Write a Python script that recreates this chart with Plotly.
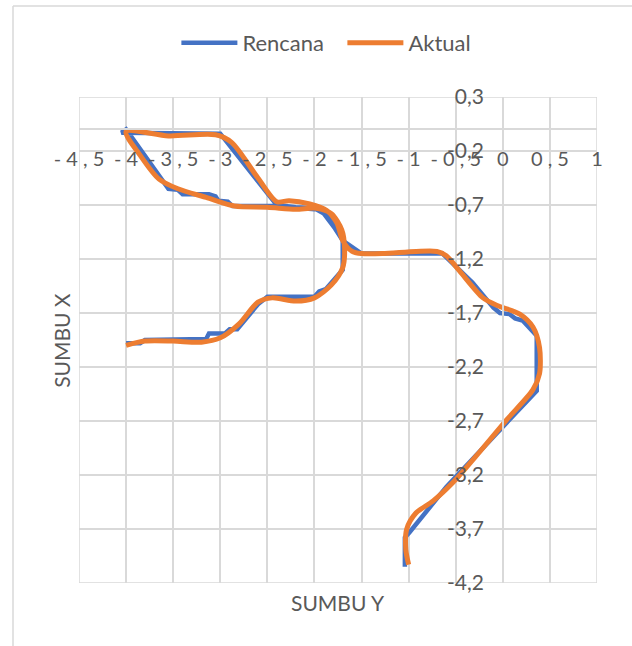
import plotly.graph_objects as go

# Planned path (Rencana): straight segments
rencana_x = [-4.0, -3.85, -3.8, -3.3, -3.15, -3.12, -2.95, -2.9, -2.82, -2.6, -2.5, -2.0,
             -1.95, -1.88, -1.7, -1.7, -1.78, -1.9, -1.95, -2.0, -2.4, -2.87, -2.92, -3.02,
             -3.05, -3.12, -3.4, -3.45, -3.55, -4.0, -4.05, -3.0, -2.4, -2.2, -2.0, -1.9,
             -1.77, -1.7, -1.5, -0.64, -0.53, -0.49, -0.32, -0.1, -0.03, 0.07, 0.13, 0.21,
             0.36, 0.36, -0.6, -0.99, -1.04, -1.04]
rencana_y = [-1.98, -1.98, -1.95, -1.95, -1.94, -1.89, -1.89, -1.85, -1.85, -1.62, -1.55, -1.55,
             -1.5, -1.48, -1.3, -1.03, -0.92, -0.78, -0.74, -0.74, -0.71, -0.71, -0.67, -0.66,
             -0.62, -0.6, -0.6, -0.56, -0.55, 0.0, -0.03, -0.04, -0.7, -0.72, -0.73, -0.78,
             -0.87, -1.03, -1.15, -1.15, -1.24, -1.27, -1.42, -1.65, -1.7, -1.71, -1.75, -1.77,
             -1.91, -2.42, -3.31, -3.73, -3.78, -4.05]

# Actual path (Aktual): smoothed
aktual_x = [-4.0, -3.8, -3.5, -3.2, -3.0, -2.8, -2.6, -2.45, -2.2, -2.0, -1.82, -1.7,
            -1.68, -1.71, -1.82, -1.98, -2.2, -2.5, -2.85, -3.15, -3.45, -3.65, -3.85, -4.0,
            -3.55, -3.05, -2.88, -2.6, -2.4, -2.27, -2.05, -1.87, -1.76, -1.7, -1.6, -1.5,
            -1.28, -0.92, -0.7, -0.6, -0.46, -0.21, -0.06, 0.18, 0.32, 0.39, 0.39, 0.32,
            0.04, -0.24, -0.53, -0.74, -0.92, -1.02, -1.03, -1.0]
aktual_y = [-2.0, -1.96, -1.96, -1.97, -1.93, -1.8, -1.6, -1.56, -1.59, -1.56, -1.44, -1.28,
            -1.1, -0.93, -0.78, -0.73, -0.74, -0.72, -0.71, -0.63, -0.55, -0.46, -0.24, -0.02,
            -0.06, -0.05, -0.12, -0.45, -0.67, -0.66, -0.69, -0.75, -0.87, -1.03, -1.13, -1.15,
            -1.15, -1.13, -1.13, -1.17, -1.31, -1.56, -1.63, -1.71, -1.83, -2.02, -2.26, -2.41,
            -2.69, -2.98, -3.27, -3.44, -3.55, -3.7, -3.89, -4.03]

x_ticks = [-4.5, -4.0, -3.5, -3.0, -2.5, -2.0, -1.5, -1.0, -0.5, 0.0, 0.5, 1.0]
x_tick_labels = ["- 4 , 5", "- 4", "- 3 , 5", "- 3", "- 2 , 5", "- 2", "- 1 , 5", "- 1",
                 "- 0 , 5", "0", "0 , 5", "1"]
y_ticks = [0.3, -0.2, -0.7, -1.2, -1.7, -2.2, -2.7, -3.2, -3.7, -4.2]
y_tick_labels = ["0,3", "-0,2", "-0,7", "-1,2", "-1,7", "-2,2", "-2,7", "-3,2", "-3,7", "-4,2"]

FONT = "Lato"
GRAY_TEXT = "#595959"
GRID = "#d9d9d9"

fig = go.Figure()
fig.add_trace(go.Scatter(x=rencana_x, y=rencana_y, mode="lines", name="Rencana",
                         line=dict(color="#4472c4", width=4.5)))
fig.add_trace(go.Scatter(x=aktual_x, y=aktual_y, mode="lines", name="Aktual",
                         line=dict(color="#ed7d31", width=5, shape="spline", smoothing=0.8)))

x_range = [-4.5, 1.0]
y_range = [-4.2, 0.3]

fig.update_layout(
    width=632, height=646,
    margin=dict(l=79, r=35, t=97, b=63),
    paper_bgcolor="white", plot_bgcolor="white",
    font=dict(family=FONT, color=GRAY_TEXT, size=21),
    showlegend=True,
    legend=dict(orientation="h", x=0.188, y=1.111, xanchor="left", yanchor="middle",
                itemwidth=56, entrywidth=95, entrywidthmode="pixels",
                font=dict(size=22, color=GRAY_TEXT), bgcolor="rgba(0,0,0,0)"),
    xaxis=dict(range=x_range, tickvals=x_ticks, ticktext=x_tick_labels,
               showgrid=True, gridcolor=GRID, gridwidth=1.5, zeroline=False,
               anchor="free", position=(0 - y_range[0]) / (y_range[1] - y_range[0]),
               showline=True, linecolor=GRID, linewidth=1.5, ticks="",
               ticklabelstandoff=12, tickfont=dict(size=20, color=GRAY_TEXT)),
    yaxis=dict(range=y_range, tickvals=y_ticks, ticktext=y_tick_labels,
               showgrid=True, gridcolor=GRID, gridwidth=1.5, zeroline=False,
               anchor="free", position=(0 - x_range[0]) / (x_range[1] - x_range[0]),
               showline=True, linecolor=GRID, linewidth=1.5, ticks="",
               ticklabelstandoff=14, tickfont=dict(size=21, color=GRAY_TEXT)),
    annotations=[
        dict(text="SUMBU Y", x=0.5, y=-0.041, xref="paper", yref="paper",
             showarrow=False, font=dict(size=21, color=GRAY_TEXT),
             xanchor="center", yanchor="middle"),
        dict(text="SUMBU X", x=-0.035, y=0.5, xref="paper", yref="paper",
             showarrow=False, textangle=-90, font=dict(size=21, color=GRAY_TEXT),
             xanchor="center", yanchor="middle"),
    ],
    shapes=[
        # plot-area frame
        dict(type="rect", xref="x", yref="y", x0=x_range[0], x1=x_range[1],
             y0=y_range[0], y1=y_range[1], line=dict(color=GRID, width=1.5), layer="below"),
        # chart-area border (left and top edges)
        dict(type="line", xref="paper", yref="paper", x0=-0.1274, x1=-0.1274,
             y0=-0.2, y1=1.187, line=dict(color=GRID, width=1.5)),
        dict(type="line", xref="paper", yref="paper", x0=-0.1274, x1=1.2,
             y0=1.187, y1=1.187, line=dict(color=GRID, width=1.5)),
    ],
)

fig.write_html("out.html")
